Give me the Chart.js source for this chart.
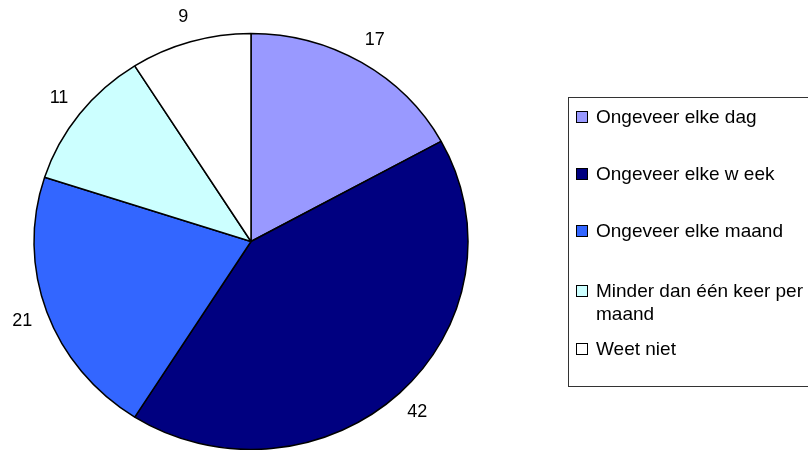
<!DOCTYPE html>
<html>
<head>
<meta charset="utf-8">
<script src="https://cdn.jsdelivr.net/npm/chart.js@4.4.0/dist/chart.umd.min.js"></script>
<style>
  body { margin: 0; background: #fff; overflow: hidden; }
  #wrap { position: relative; width: 808px; height: 450px; }
  #legend {
    position: absolute; left: 568px; top: 97px; width: 260px; height: 290px;
    border: 1px solid #333; box-sizing: border-box;
    font-family: "Liberation Sans", Arial, sans-serif; font-size: 19px; color: #000;
  }
  .item { position: absolute; left: 27px; line-height: 23px; white-space: nowrap; }
  .box { position: absolute; left: -20px; top: 6px; width: 10px; height: 10px; border: 1px solid #000; }
</style>
</head>
<body>
<div id="wrap">
  <canvas id="pieChart" width="808" height="450"></canvas>
  <div id="legend"></div>
</div>
<script>
const categories = ['Ongeveer elke dag', 'Ongeveer elke w eek', 'Ongeveer elke maand', 'Minder dan één keer per maand', 'Weet niet'];
const legendLines = [['Ongeveer elke dag'], ['Ongeveer elke w eek'], ['Ongeveer elke maand'], ['Minder dan één keer per', 'maand'], ['Weet niet']];
const values = [17, 42, 21, 11, 9];
const colors = ['#9999FF', '#000080', '#3366FF', '#CCFFFF', '#FFFFFF'];

// the original pie is slightly flattened
const squash = 208 / 217;

// flatten the pie, then put value labels just outside the slices
const pieExtras = {
  id: 'pieExtras',
  beforeDatasetsDraw(chart) {
    const arc = chart.getDatasetMeta(0).data[0];
    const ctx = chart.ctx;
    ctx.save();
    ctx.translate(arc.x, arc.y);
    ctx.scale(1, squash);
    ctx.translate(-arc.x, -arc.y);
  },
  afterDatasetsDraw(chart) {
    const ctx = chart.ctx;
    ctx.restore();
    const meta = chart.getDatasetMeta(0);
    ctx.save();
    ctx.font = '18px "Liberation Sans", Arial, sans-serif';
    ctx.fillStyle = '#000';
    ctx.textAlign = 'center';
    ctx.textBaseline = 'middle';
    meta.data.forEach((arc, i) => {
      const p = arc.getProps(['x', 'y', 'startAngle', 'endAngle', 'outerRadius']);
      const mid = (p.startAngle + p.endAngle) / 2;
      const gap = 26;
      const tx = p.x + Math.cos(mid) * (p.outerRadius + gap);
      const ty = p.y + Math.sin(mid) * (p.outerRadius * squash + gap);
      ctx.fillText(String(chart.data.datasets[0].data[i]), tx, ty);
    });
    ctx.restore();
  }
};

const ctx1 = document.getElementById('pieChart');
const pieChart = new Chart(ctx1, {
  type: 'pie',
  data: {
    labels: categories,
    datasets: [{
      data: values,
      backgroundColor: colors,
      borderColor: '#000',
      borderWidth: 1.5,
      radius: 217
    }]
  },
  options: {
    responsive: false,
    animation: false,
    layout: { padding: { left: 0, right: 306, top: 33, bottom: 0 } },
    plugins: {
      legend: { display: false },
      tooltip: { enabled: false }
    }
  },
  plugins: [pieExtras]
});

// legend on the right
const legend = document.getElementById('legend');
const rowTops = [7, 64, 121, 181, 239];
legendLines.forEach((lines, i) => {
  const div = document.createElement('div');
  div.className = 'item';
  div.style.top = rowTops[i] + 'px';
  div.innerHTML = '<span class="box" style="background:' + colors[i] + '"></span>' + lines.join('<br>');
  legend.appendChild(div);
});
</script>
</body>
</html>
